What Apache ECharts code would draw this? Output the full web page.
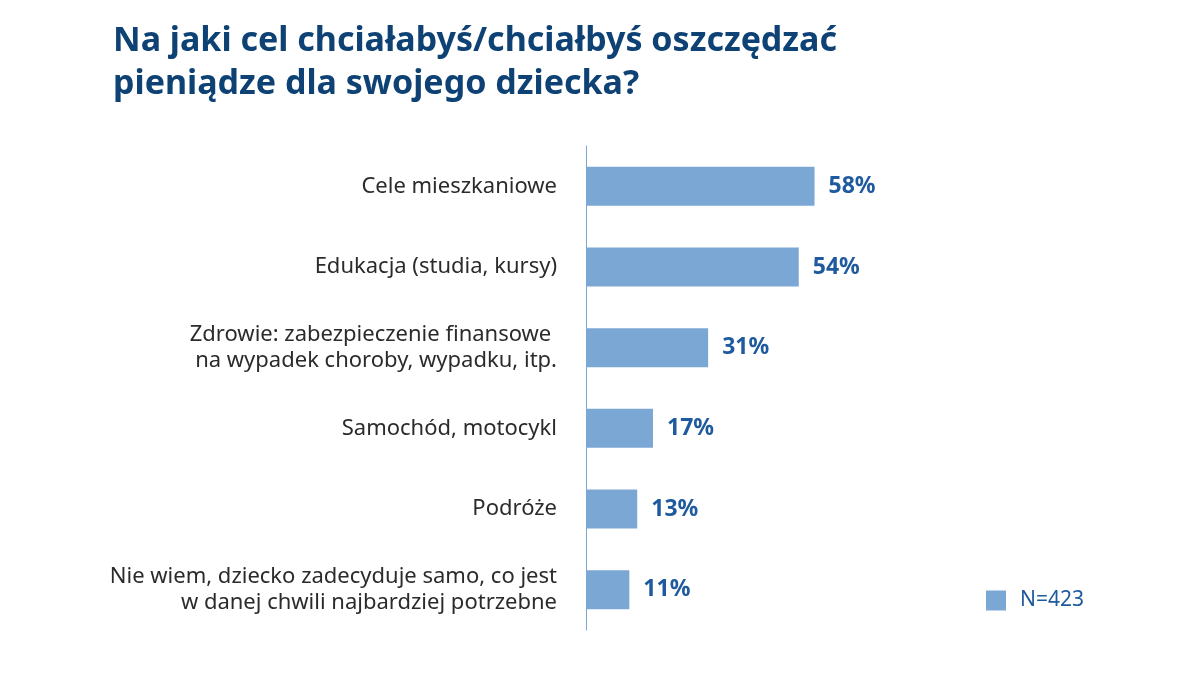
<!DOCTYPE html>
<html>
<head>
<meta charset="utf-8">
<script src="https://cdn.jsdelivr.net/npm/echarts@6/dist/echarts.min.js"></script>
<style>
html,body{margin:0;padding:0;background:#fff;}
#chart{width:1200px;height:676px;}
</style>
</head>
<body>
<div id="chart"></div>
<script>
const titleText = 'Na jaki cel chciałabyś/chciałbyś oszczędzać\npieniądze dla swojego dziecka?';
const categories = [
  'Cele mieszkaniowe',
  'Edukacja (studia, kursy)',
  'Zdrowie: zabezpieczenie finansowe \nna wypadek choroby, wypadku, itp.',
  'Samochód, motocykl',
  'Podróże',
  'Nie wiem, dziecko zadecyduje samo, co jest\nw danej chwili najbardziej potrzebne'
];
const values = [58, 54, 31, 17, 13, 11];
const seriesName = 'N=423';

const chart = echarts.init(document.getElementById('chart'));
chart.setOption({
  backgroundColor: '#ffffff',
  animation: false,
  title: {
    text: titleText,
    left: 108,
    top: 15,
    textStyle: {
      fontFamily: 'Noto Sans',
      fontWeight: 'bold',
      fontSize: 34,
      lineHeight: 43,
      color: '#0e4274'
    }
  },
  legend: {
    data: [seriesName],
    left: 986,
    top: 590,
    padding: 0,
    itemWidth: 20,
    itemHeight: 20,
    itemGap: 10,
    icon: 'rect',
    textStyle: {
      fontFamily: 'Noto Sans',
      fontSize: 21,
      color: '#1f5a9e',
      padding: [0, 0, 0, 9]
    }
  },
  grid: {
    left: 586,
    right: 220,
    top: 146,
    bottom: 46,
    containLabel: false
  },
  xAxis: {
    type: 'value',
    min: 0,
    max: 100,
    show: false
  },
  yAxis: {
    type: 'category',
    data: categories,
    inverse: true,
    axisLine: { show: true, lineStyle: { color: '#7ba7d4', width: 1 } },
    axisTick: { show: false },
    splitLine: { show: false },
    axisLabel: {
      margin: 29,
      fontFamily: 'Noto Sans',
      fontSize: 22,
      lineHeight: 26,
      color: '#2b2b2b',
      align: 'right'
    }
  },
  series: [{
    name: seriesName,
    type: 'bar',
    data: values,
    barWidth: 39,
    itemStyle: { color: '#7ba7d4' },
    label: {
      show: true,
      position: 'right',
      distance: 14,
      formatter: '{c}%',
      fontFamily: 'Noto Sans',
      fontWeight: 'bold',
      fontSize: 23,
      color: '#1f5a9e'
    }
  }]
});
</script>
</body>
</html>
